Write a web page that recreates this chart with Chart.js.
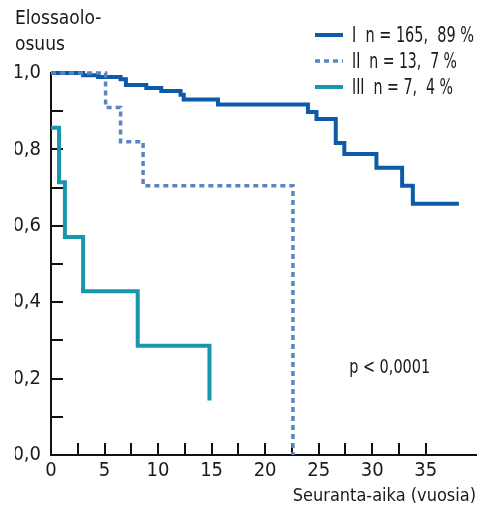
<!DOCTYPE html>
<html>
<head>
<meta charset="utf-8">
<script src="https://cdn.jsdelivr.net/npm/chart.js@4/dist/chart.umd.min.js"></script>
<style>
html,body{margin:0;padding:0;background:#fff;}
#wrap{width:481px;height:515px;position:relative;}
</style>
</head>
<body>
<div id="wrap"><canvas id="c" width="481" height="515"></canvas></div>
<script>
// ---- data ----
const timesI = [0, 3.0, 4.4, 6.5, 7.0, 8.9, 10.3, 12.1, 12.4, 15.6, 24.0, 24.8, 26.6, 27.4, 30.4, 32.8, 33.8, 38.1];
const survI  = [1.0, 0.994, 0.990, 0.984, 0.969, 0.961, 0.953, 0.943, 0.931, 0.918, 0.898, 0.880, 0.817, 0.788, 0.752, 0.705, 0.658, 0.658];
const timesII = [0, 5.1, 6.5, 8.6, 22.6];
const survII  = [1.0, 0.91, 0.82, 0.705, 0.0];
const timesIII = [0, 0.75, 1.3, 3.0, 8.1, 14.8];
const survIII  = [0.857, 0.714, 0.571, 0.429, 0.286, 0.143];
const legendLabels = ['I  n = 165,  89 %', 'II  n = 13,  7 %', 'III  n = 7,  4 %'];
const yTitleLines = ['Elossaolo-', 'osuus'];
const xTitle = 'Seuranta-aika (vuosia)';
const pText = 'p < 0,0001';
const pPos = [27.85, 0.227];

const FONT = "'DejaVu Sans Condensed', 'Liberation Sans Narrow', 'Liberation Sans', sans-serif";
const toPts = (t, s) => t.map((x, i) => ({x: x, y: s[i]}));

function fitText(ctx, text, x, y, width) {
  const w = ctx.measureText(text).width;
  ctx.save();
  ctx.translate(x, y);
  ctx.scale(width / w, 1);
  ctx.fillText(text, 0, 0);
  ctx.restore();
}

const legendPlugin = {
  id: 'customLegend',
  afterDraw(chart) {
    const ctx = chart.ctx;
    ctx.save();
    const ys = [35, 61, 87];
    const widths = [122, 105, 101];
    chart.data.datasets.forEach((ds, i) => {
      ctx.beginPath();
      ctx.strokeStyle = ds.borderColor;
      ctx.lineWidth = ds.borderWidth;
      ctx.setLineDash(ds.borderDash || []);
      ctx.moveTo(315, ys[i]);
      ctx.lineTo(343, ys[i]);
      ctx.stroke();
      ctx.setLineDash([]);
      ctx.fillStyle = '#1a1a1a';
      ctx.font = '22px ' + FONT;
      ctx.textBaseline = 'middle';
      ctx.textAlign = 'left';
      fitText(ctx, legendLabels[i], 352, ys[i] + 1, widths[i]);
    });
    // p-value annotation positioned through the scales
    const xs = chart.scales.x, yS = chart.scales.y;
    ctx.font = '19px ' + FONT;
    fitText(ctx, pText, xs.getPixelForValue(pPos[0]), yS.getPixelForValue(pPos[1]), 81);
    ctx.restore();
  }
};

new Chart(document.getElementById('c'), {
  type: 'line',
  data: {
    datasets: [
      {label: legendLabels[0], data: toPts(timesI, survI), borderColor: '#0d5ba8', borderWidth: 4, stepped: 'before', pointRadius: 0, fill: false, clip: false, order: 2, borderCapStyle: 'butt', borderJoinStyle: 'miter'},
      {label: legendLabels[1], data: toPts(timesII, survII), borderColor: '#5b84c6', borderWidth: 3.5, borderDash: [5, 4], stepped: 'before', pointRadius: 0, fill: false, clip: false, order: 1, borderCapStyle: 'butt', borderJoinStyle: 'miter'},
      {label: legendLabels[2], data: toPts(timesIII, survIII), borderColor: '#1797ad', borderWidth: 4, stepped: 'before', pointRadius: 0, fill: false, clip: false, order: 0, borderCapStyle: 'butt', borderJoinStyle: 'miter'}
    ]
  },
  options: {
    responsive: false,
    animation: false,
    layout: {padding: {left: 15, right: 5, top: 0, bottom: 0}},
    plugins: {
      legend: {display: false},
      tooltip: {enabled: false},
      title: {
        display: true, text: yTitleLines, align: 'start', color: '#1a1a1a',
        font: {family: FONT, size: 19, weight: 'normal', lineHeight: 1.37},
        padding: {top: 6, bottom: 15}
      }
    },
    scales: {
      x: {
        type: 'linear', min: 0, max: 39.7,
        border: {display: true, color: '#111', width: 2},
        grid: {drawOnChartArea: false, drawTicks: true, tickLength: -12, color: '#111', lineWidth: 2},
        ticks: {
          stepSize: 2.5, padding: 16, color: '#1a1a1a', maxRotation: 0, autoSkip: false,
          font: {family: FONT, size: 20},
          callback: v => (Math.abs(v % 2.5) > 1e-6 && Math.abs(v % 2.5 - 2.5) > 1e-6) ? null : (Math.abs(v % 5) < 1e-6 ? String(v) : '')
        },
        title: {display: true, text: xTitle, align: 'end', color: '#1a1a1a', font: {family: FONT, size: 18}, padding: {top: 0, bottom: 8}},
        afterFit: s => { s.height = 60; }
      },
      y: {
        type: 'linear', min: 0, max: 1,
        border: {display: true, color: '#111', width: 2},
        grid: {drawOnChartArea: false, drawTicks: true, tickLength: -12, color: '#111', lineWidth: 2},
        ticks: {
          stepSize: 0.1, padding: 22, color: '#1a1a1a',
          font: {family: FONT, size: 20},
          callback: v => { const r = Math.round(v * 10); return r % 2 === 0 ? (r / 10).toFixed(1).replace('.', ',') : ''; }
        },
        afterFit: s => { s.width = 36; }
      }
    }
  },
  plugins: [legendPlugin]
});
</script>
</body>
</html>
